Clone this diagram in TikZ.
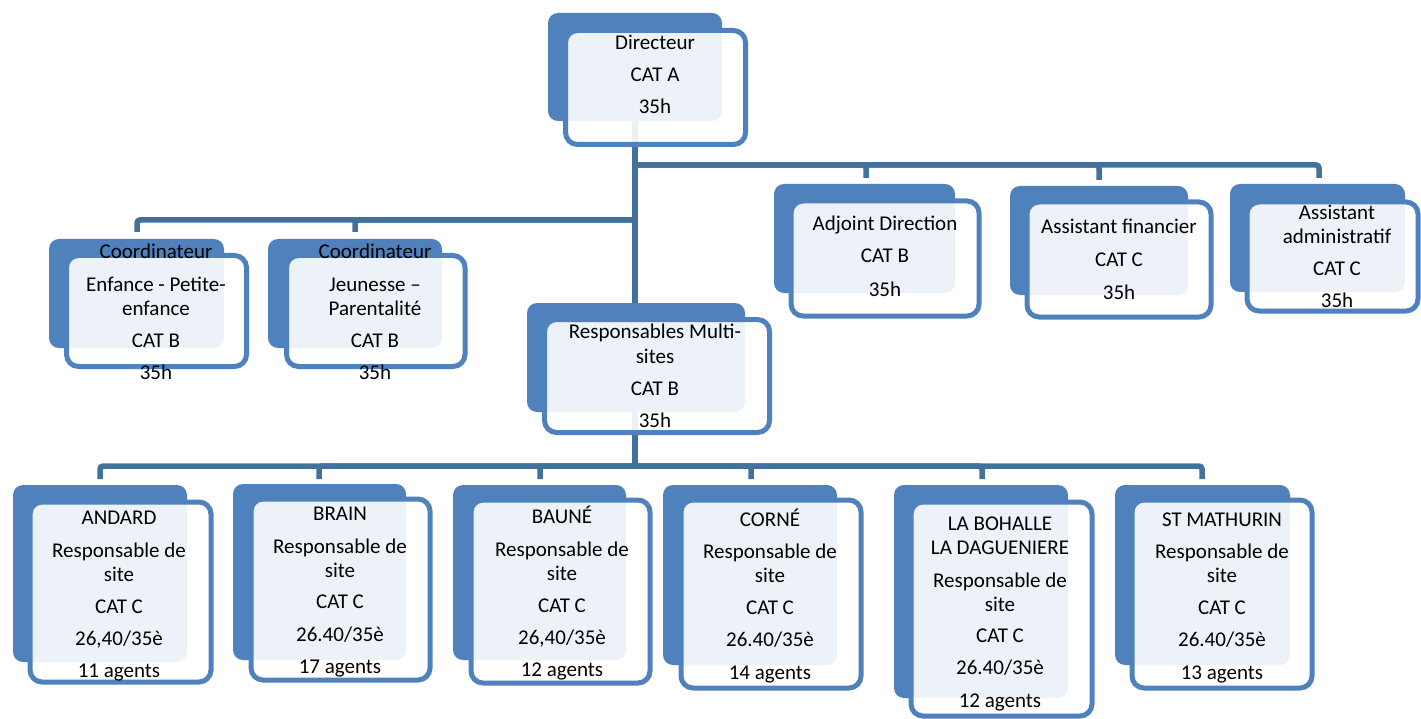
\documentclass[tikz,border=0pt]{standalone}
\usepackage{fontspec}
\setmainfont{Carlito}
\definecolor{boxblue}{HTML}{4F81BD}
\definecolor{connblue}{HTML}{41719C}
\tikzset{
  backbox/.style={draw=none, fill=boxblue, rounded corners=10pt, inner sep=0pt},
  frontbox/.style={draw=boxblue, line width=5pt, fill=white, fill opacity=0.9, draw opacity=1, rounded corners=12pt, inner sep=0pt},
  conn/.style={draw=connblue, line width=5.5pt, rounded corners=3pt},
  txt/.style={anchor=base, inner sep=0pt, text=black, font=\fontsize{21}{25}\selectfont, yshift=-2pt}
}
\newcommand\orgline[4]{\node[txt] (#1) at (#2,#3) {#4};}
\begin{document}
\begin{tikzpicture}[x=1pt,y=-1pt]
\useasboundingbox (0,0) rectangle (1421,719);
% junction coordinates
\coordinate (dirC) at (635,67);
\coordinate (jR) at (635,165);
\coordinate (jL) at (635,220);
\coordinate (jB) at (635,466);
\coordinate (adjT) at (866,178);
\coordinate (finT) at (1099,180);
\coordinate (admT) at (1319,178);
\coordinate (c1T) at (137,232);
\coordinate (c2T) at (355,232);
\coordinate (s1T) at (100,479);
\coordinate (s2T) at (319,479);
\coordinate (s3T) at (540,479);
\coordinate (s4T) at (751,479);
\coordinate (s5T) at (982,479);
\coordinate (s6T) at (1202,479);
% connectors (under the boxes)
\draw[conn] (dirC) -- (jB);
\draw[conn] (jR) -| (adjT);
\draw[conn] (jR) -| (finT);
\draw[conn] (jR) -| (admT);
\draw[conn] (jL) -| (c1T);
\draw[conn] (jL) -| (c2T);
\draw[conn] (jB) -| (s1T);
\draw[conn] (jB) -| (s2T);
\draw[conn] (jB) -| (s3T);
\draw[conn] (jB) -| (s4T);
\draw[conn] (jB) -| (s5T);
\draw[conn] (jB) -| (s6T);
% Directeur
\node[backbox, minimum width=174pt, minimum height=108pt] (dirB) at (635,67) {};
\node[frontbox, minimum width=180pt, minimum height=114pt] (dirF) at (655.5,87.5) {};
\orgline{dir1}{655}{48}{Directeur}
\orgline{dir2}{655}{80}{CAT A}
\orgline{dir3}{655}{112}{35h}
% Coordinateur 1
\node[backbox, minimum width=175pt, minimum height=109pt] (coAB) at (136.5,293.5) {};
\node[frontbox, minimum width=180pt, minimum height=111pt] (coAF) at (156.5,311) {};
\orgline{coA1}{156}{257}{Coordinateur}
\orgline{coA2}{156}{289}{Enfance - Petite-}
\orgline{coA3}{156}{313}{enfance}
\orgline{coA4}{156}{345}{CAT B}
\orgline{coA5}{156}{377}{35h}
% Coordinateur 2
\node[backbox, minimum width=174pt, minimum height=109pt] (coBB) at (355,293.5) {};
\node[frontbox, minimum width=178.5pt, minimum height=111pt] (coBF) at (375.75,311) {};
\orgline{coB1}{375}{257}{Coordinateur}
\orgline{coB2}{375}{289}{Jeunesse –}
\orgline{coB3}{375}{313}{Parentalité}
\orgline{coB4}{375}{345}{CAT B}
\orgline{coB5}{375}{377}{35h}
% Responsables Multi-sites
\node[backbox, minimum width=218pt, minimum height=109pt] (resB) at (636,357.5) {};
\node[frontbox, minimum width=225pt, minimum height=113pt] (resF) at (657,376) {};
\orgline{res1}{655}{336}{Responsables Multi-}
\orgline{res2}{655}{361}{sites}
\orgline{res3}{655}{393}{CAT B}
\orgline{res4}{655}{425}{35h}
% Adjoint Direction
\node[backbox, minimum width=181pt, minimum height=109pt] (adjB) at (864.5,238.5) {};
\node[frontbox, minimum width=188pt, minimum height=115pt] (adjF) at (885,258.5) {};
\orgline{adj1}{885}{229}{Adjoint Direction}
\orgline{adj2}{885}{261}{CAT B}
\orgline{adj3}{885}{295}{35h}
% Assistant financier
\node[backbox, minimum width=178pt, minimum height=109pt] (finB) at (1099,240.5) {};
\node[frontbox, minimum width=184pt, minimum height=115pt] (finF) at (1119,259.5) {};
\orgline{fin1}{1119}{232}{Assistant financier}
\orgline{fin2}{1119}{265}{CAT C}
\orgline{fin3}{1119}{297}{35h}
% Assistant administratif
\node[backbox, minimum width=175pt, minimum height=108pt] (admB) at (1317.5,238) {};
\node[frontbox, minimum width=171pt, minimum height=109pt] (admF) at (1332.5,256.5) {};
\orgline{adm1}{1337}{218}{Assistant}
\orgline{adm2}{1337}{242}{administratif}
\orgline{adm3}{1337}{274}{CAT C}
\orgline{adm4}{1337}{306}{35h}
% ANDARD
\node[backbox, minimum width=174pt, minimum height=177pt] (s1B) at (100,573.5) {};
\node[frontbox, minimum width=181pt, minimum height=180pt] (s1F) at (120.5,592) {};
\orgline{s1a}{119}{522}{ANDARD}
\orgline{s1b}{119}{555}{Responsable de}
\orgline{s1c}{119}{579}{site}
\orgline{s1d}{119}{611}{CAT C}
\orgline{s1e}{119}{643}{26,40/35è}
\orgline{s1f}{119}{675}{11 agents}
% BRAIN
\node[backbox, minimum width=173pt, minimum height=176pt] (s2B) at (319.5,572) {};
\node[frontbox, minimum width=179pt, minimum height=181pt] (s2F) at (340.5,589.5) {};
\orgline{s2a}{340}{518}{BRAIN}
\orgline{s2b}{340}{551}{Responsable de}
\orgline{s2c}{340}{575}{site}
\orgline{s2d}{340}{606}{CAT C}
\orgline{s2e}{340}{639}{26.40/35è}
\orgline{s2f}{340}{671}{17 agents}
% BAUNE
\node[backbox, minimum width=173pt, minimum height=175pt] (s3B) at (539.5,572.5) {};
\node[frontbox, minimum width=179pt, minimum height=183pt] (s3F) at (560.5,591.5) {};
\orgline{s3a}{562}{521}{BAUNÉ}
\orgline{s3b}{562}{554}{Responsable de}
\orgline{s3c}{562}{578}{site}
\orgline{s3d}{562}{610}{CAT C}
\orgline{s3e}{562}{642}{26,40/35è}
\orgline{s3f}{562}{674}{12 agents}
% CORNE
\node[backbox, minimum width=174pt, minimum height=180pt] (s4B) at (750,575) {};
\node[frontbox, minimum width=180pt, minimum height=188pt] (s4F) at (771,594) {};
\orgline{s4a}{770}{524}{CORNÉ}
\orgline{s4b}{770}{556}{Responsable de}
\orgline{s4c}{770}{580}{site}
\orgline{s4d}{770}{612}{CAT C}
\orgline{s4e}{770}{644}{26.40/35è}
\orgline{s4f}{770}{677}{14 agents}
% LA BOHALLE
\node[backbox, minimum width=174pt, minimum height=213pt] (s5B) at (981,591.5) {};
\node[frontbox, minimum width=181pt, minimum height=214pt] (s5F) at (1001.5,609) {};
\orgline{s5a}{1000}{528}{LA BOHALLE}
\orgline{s5b}{1000}{552}{LA DAGUENIERE}
\orgline{s5c}{1000}{585}{Responsable de}
\orgline{s5d}{1000}{609}{site}
\orgline{s5e}{1000}{640}{CAT C}
\orgline{s5f}{1000}{672}{26.40/35è}
\orgline{s5g}{1000}{705}{12 agents}
% ST MATHURIN
\node[backbox, minimum width=175pt, minimum height=180pt] (s6B) at (1202.5,575) {};
\node[frontbox, minimum width=180pt, minimum height=188pt] (s6F) at (1222,594) {};
\orgline{s6a}{1222}{524}{ST MATHURIN}
\orgline{s6b}{1222}{556}{Responsable de}
\orgline{s6c}{1222}{580}{site}
\orgline{s6d}{1222}{612}{CAT C}
\orgline{s6e}{1222}{644}{26.40/35è}
\orgline{s6f}{1222}{677}{13 agents}
\end{tikzpicture}
\end{document}
